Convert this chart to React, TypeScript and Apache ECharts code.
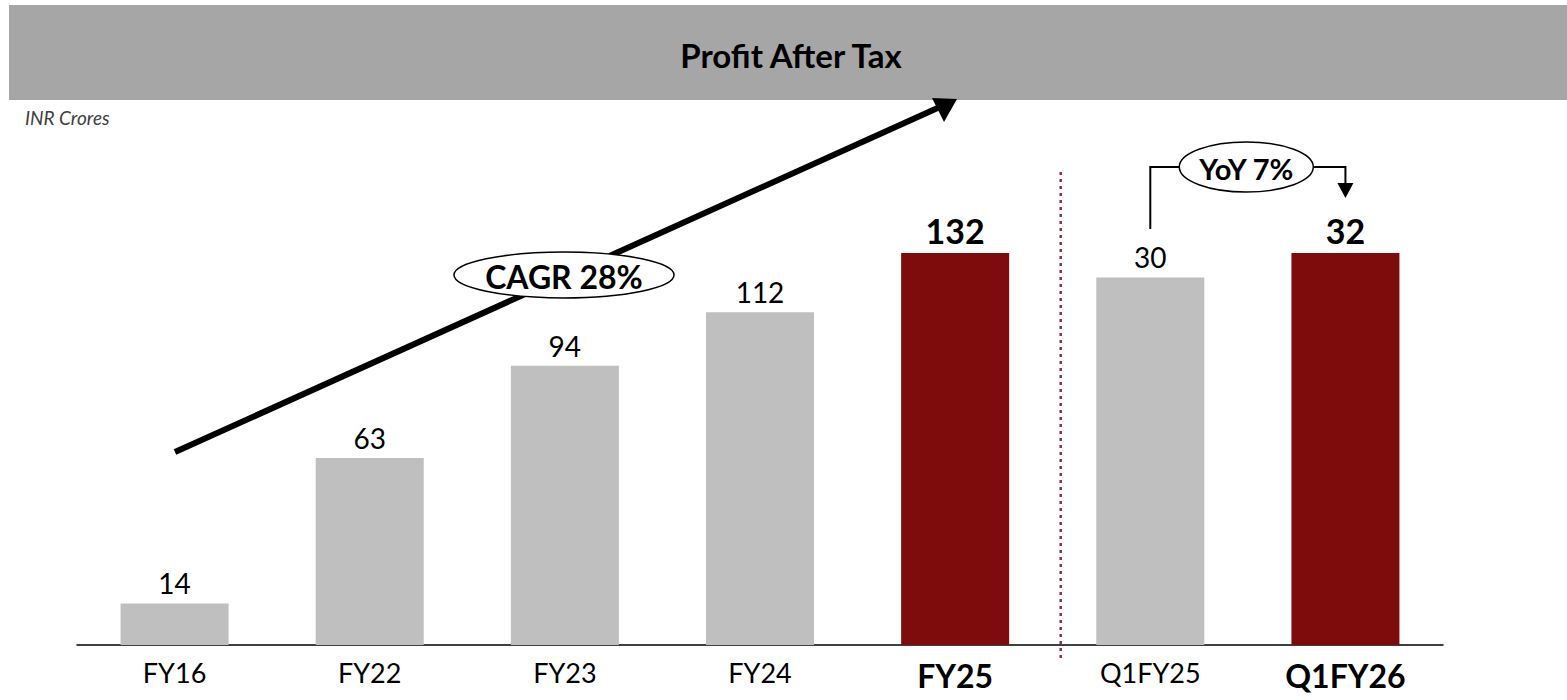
import React, { useEffect, useRef } from "react";
import * as echarts from "echarts";

const categories = ["FY16", "FY22", "FY23", "FY24", "FY25", "Q1FY25", "Q1FY26"];
const annualValues = [14, 63, 94, 112, 132, null, null];
const quarterValues = [null, null, null, null, null, 30, 32];
const highlighted = ["FY25", "Q1FY26"];
const titleText = "Profit After Tax";
const unitText = "INR Crores";
const cagrText = "CAGR 28%";
const yoyText = "YoY 7%";

const FONT = "Lato, 'Open Sans', sans-serif";
const GRAY = "#bfbfbf";
const RED = "#7f0c0d";

export default function App() {
  const ref = useRef<HTMLDivElement>(null);
  useEffect(() => {
    if (!ref.current) return;
    const chart = echarts.init(ref.current, undefined, { renderer: "svg" });
    const mk = (vals: (number | null)[]) =>
      vals.map((v, i) => {
        if (v === null) return "-";
        const hi = highlighted.includes(categories[i]);
        return {
          value: v,
          itemStyle: { color: hi ? RED : GRAY },
          label: hi
            ? { fontWeight: "bold", fontSize: 34, distance: 5 }
            : { fontWeight: "normal", fontSize: 28, distance: 6 },
        };
      });
    const annualMax = 150;
    const quarterMax = (annualMax * 32) / 132;
    chart.setOption({
      animation: false,
      textStyle: { fontFamily: FONT },
      grid: { left: 77, right: 124, top: 645 - 445.5, bottom: 55, containLabel: false },
      xAxis: {
        type: "category",
        data: categories,
        axisLine: { lineStyle: { color: "#000", width: 1.5 } },
        axisTick: { show: false },
        axisLabel: {
          margin: 14,
          color: "#000",
          fontSize: 27,
          fontFamily: FONT,
          formatter: (v: string) => (highlighted.includes(v) ? `{b|${v}}` : v),
          rich: { b: { fontWeight: "bold", fontSize: 32, fontFamily: FONT, color: "#000" } },
        },
      },
      yAxis: [
        { type: "value", min: 0, max: annualMax, show: false, splitLine: { show: false } },
        { type: "value", min: 0, max: quarterMax, show: false, splitLine: { show: false } },
      ],
      series: [
        {
          type: "bar",
          yAxisIndex: 0,
          data: mk(annualValues),
          barWidth: 108,
          barGap: "-100%",
          label: { show: true, position: "top", color: "#000", fontFamily: FONT },
        },
        {
          type: "bar",
          yAxisIndex: 1,
          data: mk(quarterValues),
          barWidth: 108,
          barGap: "-100%",
          label: { show: true, position: "top", color: "#000", fontFamily: FONT },
        },
      ],
    });

    const px = (i: number, v: number, yi: number) =>
      chart.convertToPixel({ xAxisIndex: 0, yAxisIndex: yi }, [i, v]) as number[];
    const q1 = px(5, 30, 1);
    const q2 = px(6, 32, 1);
    const a4 = px(4, 0, 0);
    const divX = (a4[0] + q1[0]) / 2 + 8;
    const baseY = a4[1];

    const ex = q1[0] + 96;
    const ey = 167;
    chart.setOption({
      graphic: [
        { type: "rect", shape: { x: 9, y: 5, width: 1560, height: 95 }, style: { fill: "#a6a6a6" }, z: 1 },
        {
          type: "text", x: 791, y: 55,
          style: { text: titleText, fontFamily: FONT, fontWeight: "bold", fontSize: 33, fill: "#000", align: "center", verticalAlign: "middle" },
          z: 2,
        },
        {
          type: "text", x: 25, y: 117,
          style: { text: unitText, fontFamily: FONT, fontStyle: "italic", fontSize: 19, fill: "#404040", verticalAlign: "middle" },
        },
        // divider
        {
          type: "line",
          shape: { x1: divX, y1: 172, x2: divX, y2: baseY + 15 },
          style: { stroke: "#8b2d55", lineWidth: 2.5, lineDash: [3, 4] },
          z: 5,
        },
        // CAGR arrow
        {
          type: "line",
          shape: { x1: 175, y1: 452, x2: 942, y2: 106 },
          style: { stroke: "#000", lineWidth: 6 },
          z: 10,
        },
        {
          type: "polygon",
          shape: { points: [[957, 99], [932, 98], [944, 122]] },
          style: { fill: "#000" },
          z: 10,
        },
        {
          type: "ellipse",
          shape: { cx: 564, cy: 275, rx: 110, ry: 23 },
          style: { fill: "#fff", stroke: "#000", lineWidth: 1.5 },
          z: 11,
        },
        {
          type: "text", x: 564, y: 276,
          style: { text: cagrText, fontFamily: FONT, fontWeight: "bold", fontSize: 32, fill: "#000", align: "center", verticalAlign: "middle" },
          z: 12,
        },
        // YoY bracket
        {
          type: "polyline",
          shape: { points: [[q1[0], 229], [q1[0], ey], [ex - 67, ey]] },
          style: { stroke: "#000", lineWidth: 2, fill: null },
          z: 10,
        },
        {
          type: "polyline",
          shape: { points: [[ex + 67, ey], [q2[0], ey], [q2[0], 184]] },
          style: { stroke: "#000", lineWidth: 2, fill: null },
          z: 10,
        },
        {
          type: "polygon",
          shape: { points: [[q2[0] - 8, 183], [q2[0] + 8, 183], [q2[0], 198]] },
          style: { fill: "#000" },
          z: 10,
        },
        {
          type: "ellipse",
          shape: { cx: ex, cy: ey, rx: 67, ry: 25 },
          style: { fill: "#fff", stroke: "#000", lineWidth: 1.5 },
          z: 11,
        },
        {
          type: "text", x: ex, y: ey + 1,
          style: { text: yoyText, fontFamily: FONT, fontWeight: "bold", fontSize: 29, fill: "#000", align: "center", verticalAlign: "middle" },
          z: 12,
        },
      ],
    });
    return () => chart.dispose();
  }, []);
  return (
    <div
      ref={ref}
      style={{ position: "fixed", left: 0, top: 0, width: 1567, height: 700, background: "#fff" }}
    />
  );
}
